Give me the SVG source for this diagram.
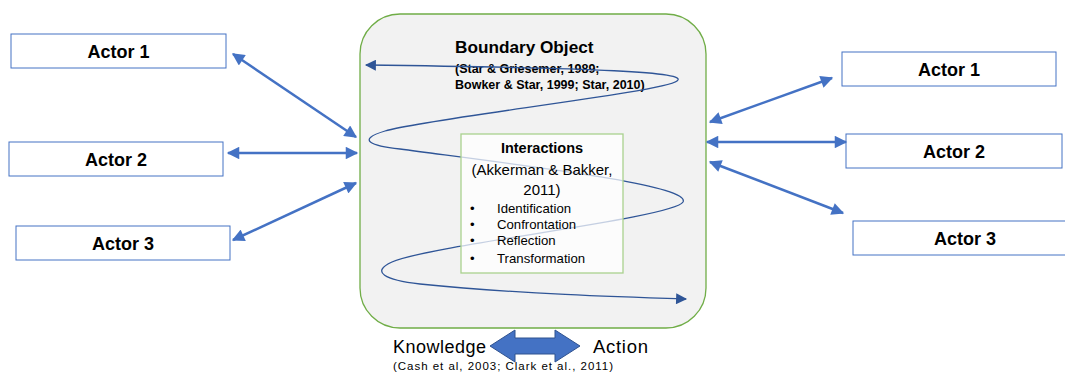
<svg xmlns="http://www.w3.org/2000/svg" width="1065" height="376" viewBox="0 0 1065 376">
<defs>
<marker id="ah" viewBox="0 0 10 10" refX="9" refY="5" markerWidth="5.5" markerHeight="5" markerUnits="strokeWidth" orient="auto-start-reverse"><path d="M0,0 L10,5 L0,10 z" fill="#4472c4"/></marker>
<marker id="sh" viewBox="0 0 10 10" refX="9" refY="5" markerWidth="13" markerHeight="11" markerUnits="userSpaceOnUse" orient="auto-start-reverse"><path d="M0,0 L10,5 L0,10 z" fill="#2f5597"/></marker>
<style>
.actor rect{fill:#fff;stroke:#4472c4;stroke-width:1}
.actor text{font-family:"Liberation Sans",Arial,sans-serif;font-weight:bold;font-size:18px;fill:#000;text-anchor:middle}
.conn{stroke:#4472c4;stroke-width:2.5;fill:none;marker-start:url(#ah);marker-end:url(#ah)}
.t{font-family:"Liberation Sans",Arial,sans-serif;fill:#000}
</style>
</defs>
<rect width="1065" height="376" fill="#fff"/>
<g id="boundary">
<rect x="360" y="14" width="346" height="314" rx="40" ry="40" fill="#f2f2f2" stroke="#70ad47" stroke-width="1.3"/>
<text class="t" x="455" y="53" font-size="17.2" font-weight="bold">Boundary Object</text>
<text class="t" x="455" y="73" font-size="12.5" font-weight="bold">(Star &amp; Griesemer, 1989;</text>
<text class="t" x="455" y="89" font-size="12.5" font-weight="bold">Bowker &amp; Star, 1999; Star, 2010)</text>
</g>
<g id="spiral">
<path d="M366,65 C600,68 690,72 677,81 C664,92 430,118 385,131 C355,140 372,146 400,149 C520,165 692,185 683,202 C674,218 430,245 392,262 C370,272 385,280 420,284 C520,294 620,297 686,299" fill="none" stroke="#2f5597" stroke-width="1.3" marker-start="url(#sh)" marker-end="url(#sh)"/>
</g>
<g id="interactions">
<rect x="461" y="134" width="162" height="139" fill="#fff" fill-opacity="0.72" stroke="#a9d18e" stroke-width="1.3"/>
<text class="t" x="542" y="153" font-size="14.5" font-weight="bold" text-anchor="middle">Interactions</text>
<text class="t" x="542" y="175" font-size="15" text-anchor="middle">(Akkerman &amp; Bakker,</text>
<text class="t" x="542" y="195" font-size="15" text-anchor="middle">2011)</text>
<g font-size="13.2">
<text class="t" x="470" y="213">•</text><text class="t" x="497" y="213">Identification</text>
<text class="t" x="470" y="229">•</text><text class="t" x="497" y="229">Confrontation</text>
<text class="t" x="470" y="245">•</text><text class="t" x="497" y="245">Reflection</text>
<text class="t" x="470" y="263">•</text><text class="t" x="497" y="263">Transformation</text>
</g>
</g>
<g id="actor-l1" class="actor"><rect x="11" y="34" width="215" height="34"/><text x="118.5" y="58">Actor 1</text></g>
<g id="actor-l2" class="actor"><rect x="9" y="142" width="214" height="34"/><text x="116" y="166">Actor 2</text></g>
<g id="actor-l3" class="actor"><rect x="16" y="226" width="214" height="34"/><text x="123" y="250">Actor 3</text></g>
<g id="actor-r1" class="actor"><rect x="842" y="52" width="214" height="34"/><text x="949" y="76">Actor 1</text></g>
<g id="actor-r2" class="actor"><rect x="846" y="134" width="216" height="34"/><text x="954" y="158">Actor 2</text></g>
<g id="actor-r3" class="actor"><rect x="853" y="221" width="214" height="34"/><text x="965" y="245">Actor 3</text></g>
<g id="connectors">
<line class="conn" x1="233" y1="54" x2="356" y2="137"/>
<line class="conn" x1="228" y1="153" x2="357" y2="153"/>
<line class="conn" x1="233" y1="240" x2="356" y2="183"/>
<line class="conn" x1="710" y1="122" x2="832" y2="78"/>
<line class="conn" x1="707" y1="142" x2="846" y2="142"/>
<line class="conn" x1="710" y1="162" x2="843" y2="213"/>
</g>
<g id="knowledge-action">
<path d="M490,346 L515,330 L515,338 L555,338 L555,330 L580,346 L555,362 L555,354 L515,354 L515,362 z" fill="#4472c4" stroke="#2f528f" stroke-width="1"/>
<text class="t" x="393" y="353" font-size="18" textLength="93" lengthAdjust="spacing">Knowledge</text>
<text class="t" x="593" y="353" font-size="18.5" textLength="55" lengthAdjust="spacing">Action</text>
<text class="t" x="393" y="370" font-size="11.5" textLength="220" lengthAdjust="spacing">(Cash et al, 2003; Clark et al., 2011)</text>
</g>
</svg>
